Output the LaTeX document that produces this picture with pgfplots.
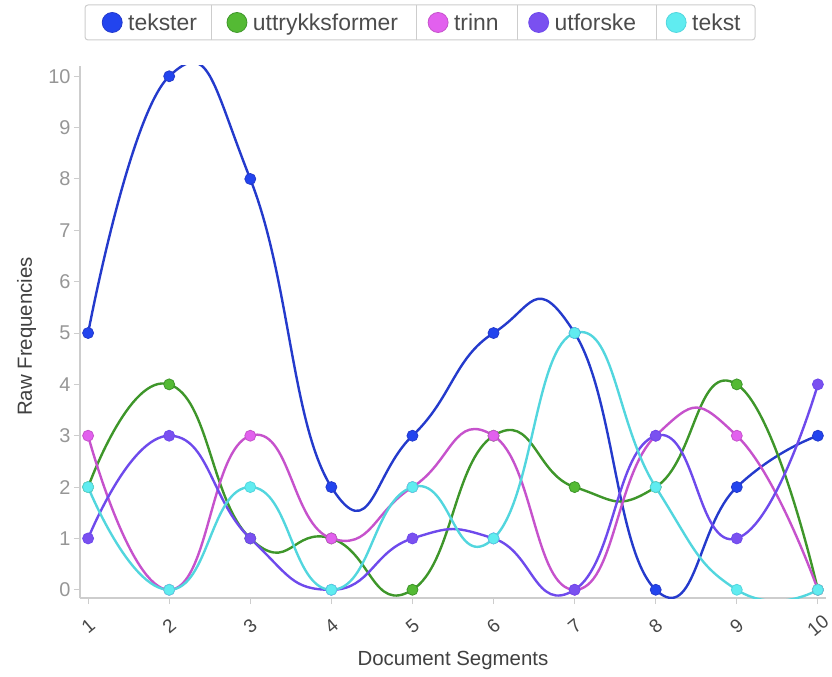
\documentclass[border=0pt]{standalone}
\usepackage{fontspec}
\setmainfont{Liberation Sans}
\usepackage{pgfplots}
\pgfplotsset{compat=1.18}

\definecolor{cBlue}{RGB}{36,58,204}
\definecolor{cGreen}{RGB}{62,150,42}
\definecolor{cMag}{RGB}{198,82,204}
\definecolor{cPurp}{RGB}{110,74,236}
\definecolor{cCyan}{RGB}{82,214,222}
\definecolor{fBlue}{RGB}{34,68,238}
\definecolor{fGreen}{RGB}{84,186,52}
\definecolor{fMag}{RGB}{226,96,238}
\definecolor{fPurp}{RGB}{122,80,240}
\definecolor{fCyan}{RGB}{96,236,240}
\definecolor{axgray}{RGB}{205,205,205}
\definecolor{txgray}{RGB}{150,150,150}

\pgfplotsset{
  series/.style={#1, line width=2.4bp, smooth, tension=0.88, mark=*, mark size=5.5bp},
}

\begin{document}
\begin{tikzpicture}
% canvas: 832 x 677, axis box from (0,0) to (746,532)
\useasboundingbox (-80bp,-79bp) rectangle (752bp,598bp);
\begin{axis}[
  name=ax,
  at={(0,0)}, anchor=south west,
  scale only axis,
  width=746bp, height=532bp,
  xmin=0.9, xmax=10.1,
  ymin=-0.16, ymax=10.2,
  axis lines=left,
  axis line style={draw=axgray, line width=1.2bp, -},
  xtick={1,...,10}, ytick={0,...,10},
  tick align=outside,
  major tick length=6bp,
  tick style={draw=axgray, line width=1bp},
  /pgf/number format/assume math mode=true,
  ticklabel style={font=\fontsize{20}{24}\selectfont, text=txgray},
  xticklabel style={anchor=center, yshift=-22bp, rotate=40,
    font=\fontsize{19}{22}\selectfont, text=black!72},
  xlabel={Document Segments},
  ylabel={Raw Frequencies},
  label style={font=\fontsize{20.5}{24}\selectfont, text=black!75},
  xlabel style={at={(axis description cs:0.5,0)}, anchor=center, yshift=-62bp},
  ylabel style={at={(axis description cs:-0.0717,0.4915)}, anchor=center, rotate=0},
  legend columns=5,
  legend style={at={(axis description cs:0.0295,1.0818)}, anchor=west,
    draw=none, fill=none, inner sep=0pt,
    font=\fontsize{23}{27}\selectfont, text=black!70,
    /tikz/every odd column/.style={column sep=0bp},
    /tikz/every even column/.style={column sep=24bp},
    nodes={inner xsep=6bp, inner ysep=2bp}},
  legend image code/.code={\draw[#1, mark size=10bp, line width=0pt] plot coordinates {(0bp,0bp)};},
  clip=true,
]
\addplot[series=cBlue, mark options={fill=fBlue, draw=cBlue, line width=0.8bp}]
  coordinates {(1,5) (2,10) (3,8) (4,2) (5,3) (6,5) (7,5) (8,0) (9,2) (10,3)};
\addlegendentry{tekster}
\addplot[series=cGreen, mark options={fill=fGreen, draw=cGreen, line width=0.8bp}]
  coordinates {(1,2) (2,4) (3,1) (4,1) (5,0) (6,3) (7,2) (8,2) (9,4) (10,0)};
\addlegendentry{uttrykksformer}
\addplot[series=cMag, mark options={fill=fMag, draw=cMag, line width=0.8bp}]
  coordinates {(1,3) (2,0) (3,3) (4,1) (5,2) (6,3) (7,0) (8,3) (9,3) (10,0)};
\addlegendentry{trinn}
\addplot[series=cPurp, mark options={fill=fPurp, draw=cPurp, line width=0.8bp}]
  coordinates {(1,1) (2,3) (3,1) (4,0) (5,1) (6,1) (7,0) (8,3) (9,1) (10,4)};
\addlegendentry{utforske}
\addplot[series=cCyan, mark options={fill=fCyan, draw=cCyan, line width=0.8bp}]
  coordinates {(1,2) (2,0) (3,2) (4,0) (5,2) (6,1) (7,5) (8,2) (9,0) (10,0)};
\addlegendentry{tekst}
\end{axis}
% legend frame and cell separators
\draw[axgray, line width=1bp, rounded corners=3bp] (5bp,558bp) rectangle (675bp,593bp);
\foreach \sx in {131,336,437,576}
  \draw[axgray, line width=1bp] (\sx bp,558bp) -- (\sx bp,593bp);
\end{tikzpicture}
\end{document}
